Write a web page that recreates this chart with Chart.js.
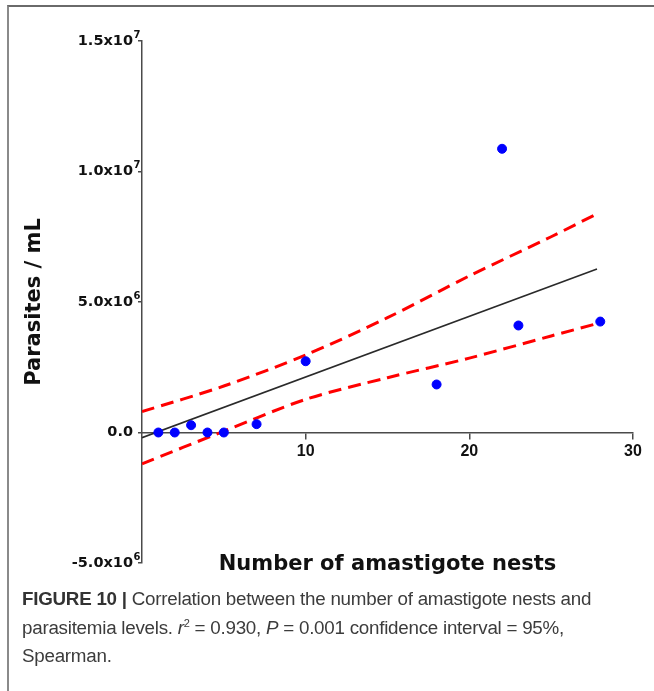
<!DOCTYPE html>
<html>
<head>
<meta charset="utf-8">
<script src="https://cdn.jsdelivr.net/npm/chart.js@4"></script>
<style>
  html, body { margin: 0; padding: 0; background: #fff; }
  body { width: 654px; height: 691px; position: relative; overflow: hidden; }
  .frame {
    position: absolute; left: 7px; top: 5px; right: 0; bottom: 0;
    border-top: 2px solid #6a6a6a; border-left: 2px solid #8a8a8a;
  }
  .chart-box { position: absolute; left: 8px; top: 8px; width: 640px; height: 580px; }
  .caption {
    position: absolute; left: 22px; top: 585px; width: 630px; white-space: nowrap;
    font-family: 'Liberation Sans', Arial, sans-serif; font-size: 18.8px;
    line-height: 28.5px; color: #3c3c3c; letter-spacing: -0.25px;
  }
  .caption b { color: #333; }
  .caption sup { font-size: 11px; line-height: 0; }
</style>
</head>
<body>
<div class="frame"></div>
<div class="chart-box"><canvas id="corrChart" width="640" height="580"></canvas></div>
<div class="caption">
  <b>FIGURE 10 |</b> Correlation between the number of amastigote nests and<br>
  parasitemia levels. <i>r</i><sup>2</sup> = 0.930, <i>P</i> = 0.001 confidence interval = 95%,<br>
  Spearman.
</div>

<script>
// ===== Data =====
const nests = [1, 2, 3, 4, 5, 7, 10, 18, 22, 23, 28];
const parasites = [0, 0, 0.28e6, 0, 0, 0.32e6, 2.73e6, 1.84e6, 10.87e6, 4.1e6, 4.25e6];

// regression line end points
const fitX = [0, 27.8];
const fitY = [-0.2e6, 6.26e6];

// 95% confidence band
const bandX = [0, 5, 10, 15, 20, 25, 27.8];
const bandUpper = [0.8e6, 1.78e6, 2.97e6, 4.4e6, 6.0e6, 7.5e6, 8.38e6];
const bandLower = [-1.2e6, 0.05e6, 1.27e6, 2.1e6, 2.85e6, 3.7e6, 4.17e6];

// axes
const xTicks = [10, 20, 30];
const yTicks = [-5e6, 0, 5e6, 1e7, 1.5e7];
const yTickLabels = ['-5.0x10', '0.0', '5.0x10', '1.0x10', '1.5x10'];
const yTickExponents = ['6', '', '6', '7', '7'];

const labelFont = 'DejaVu Sans, Verdana, sans-serif';
const axisColor = '#4a4a4a';

const toPoints = (xs, ys) => xs.map((x, i) => ({ x: x, y: ys[i] }));

// draws the small raised exponent after each y tick label
const tickExponents = {
    id: 'tickExponents',
    afterDraw(chart) {
        const scale = chart.scales.y;
        const ctx = chart.ctx;
        const labelRight = scale.right - scale.options.grid.tickLength - scale.options.ticks.padding;
        ctx.save();
        ctx.font = 'bold 10px ' + labelFont;
        ctx.fillStyle = '#111';
        ctx.textAlign = 'left';
        ctx.textBaseline = 'middle';
        yTicks.forEach((v, i) => {
            if (yTickExponents[i]) {
                ctx.fillText(yTickExponents[i], labelRight + 0.5, scale.getPixelForValue(v) - 6);
            }
        });
        ctx.restore();
    }
};

new Chart(document.getElementById('corrChart'), {
    type: 'scatter',
    data: {
        datasets: [
            {
                label: 'Samples',
                data: toPoints(nests, parasites),
                backgroundColor: '#0000ff',
                borderColor: '#0000ff',
                pointRadius: 4.5,
                showLine: false
            },
            {
                label: 'Fit',
                data: toPoints(fitX, fitY),
                borderColor: '#2a2a2a',
                borderWidth: 1.6,
                pointRadius: 0,
                showLine: true
            },
            {
                label: 'Upper 95%',
                data: toPoints(bandX, bandUpper),
                borderColor: '#ff0000',
                borderWidth: 3,
                borderDash: [13, 7],
                pointRadius: 0,
                showLine: true,
                tension: 0.3
            },
            {
                label: 'Lower 95%',
                data: toPoints(bandX, bandLower),
                borderColor: '#ff0000',
                borderWidth: 3,
                borderDash: [13, 7],
                pointRadius: 0,
                showLine: true,
                tension: 0.3
            }
        ]
    },
    options: {
        responsive: false,
        animation: false,
        layout: { padding: { top: 33, right: 15, bottom: 25, left: 8 } },
        plugins: {
            legend: { display: false },
            tooltip: { enabled: false }
        },
        scales: {
            x: {
                type: 'linear',
                position: { y: 0 },
                min: 0,
                max: 30,
                afterBuildTicks: (scale) => { scale.ticks = xTicks.map(v => ({ value: v })); },
                grid: { drawOnChartArea: false, drawTicks: true, tickLength: 6, color: axisColor, lineWidth: 1.5 },
                border: { color: axisColor, width: 1.5 },
                ticks: {
                    color: '#111',
                    padding: 3,
                    maxRotation: 0,
                    font: { family: 'Liberation Sans, Arial, sans-serif', size: 16, weight: 'bold' }
                },
                title: {
                    display: true,
                    text: 'Number of amastigote nests',
                    color: '#111',
                    padding: { top: 88, bottom: 0 },
                    font: { family: labelFont, size: 21, weight: 'bold' }
                }
            },
            y: {
                type: 'linear',
                position: 'left',
                min: -5e6,
                max: 1.5e7,
                afterBuildTicks: (scale) => { scale.ticks = yTicks.map(v => ({ value: v })); },
                afterFit: (scale) => { scale.width = 126; },
                grid: { drawOnChartArea: false, drawTicks: true, tickLength: 4, color: axisColor, lineWidth: 1.5 },
                border: { color: axisColor, width: 1.5 },
                ticks: {
                    color: '#111',
                    padding: 5,
                    font: { family: labelFont, size: 14.5, weight: 'bold' },
                    callback: (value) => {
                        const i = yTicks.indexOf(value);
                        return i >= 0 ? yTickLabels[i] : '';
                    }
                },
                title: {
                    display: true,
                    text: 'Parasites / mL',
                    color: '#111',
                    padding: { top: 6, bottom: 4 },
                    font: { family: labelFont, size: 21, weight: 'bold' }
                }
            }
        }
    },
    plugins: [tickExponents]
});
</script>
</body>
</html>
